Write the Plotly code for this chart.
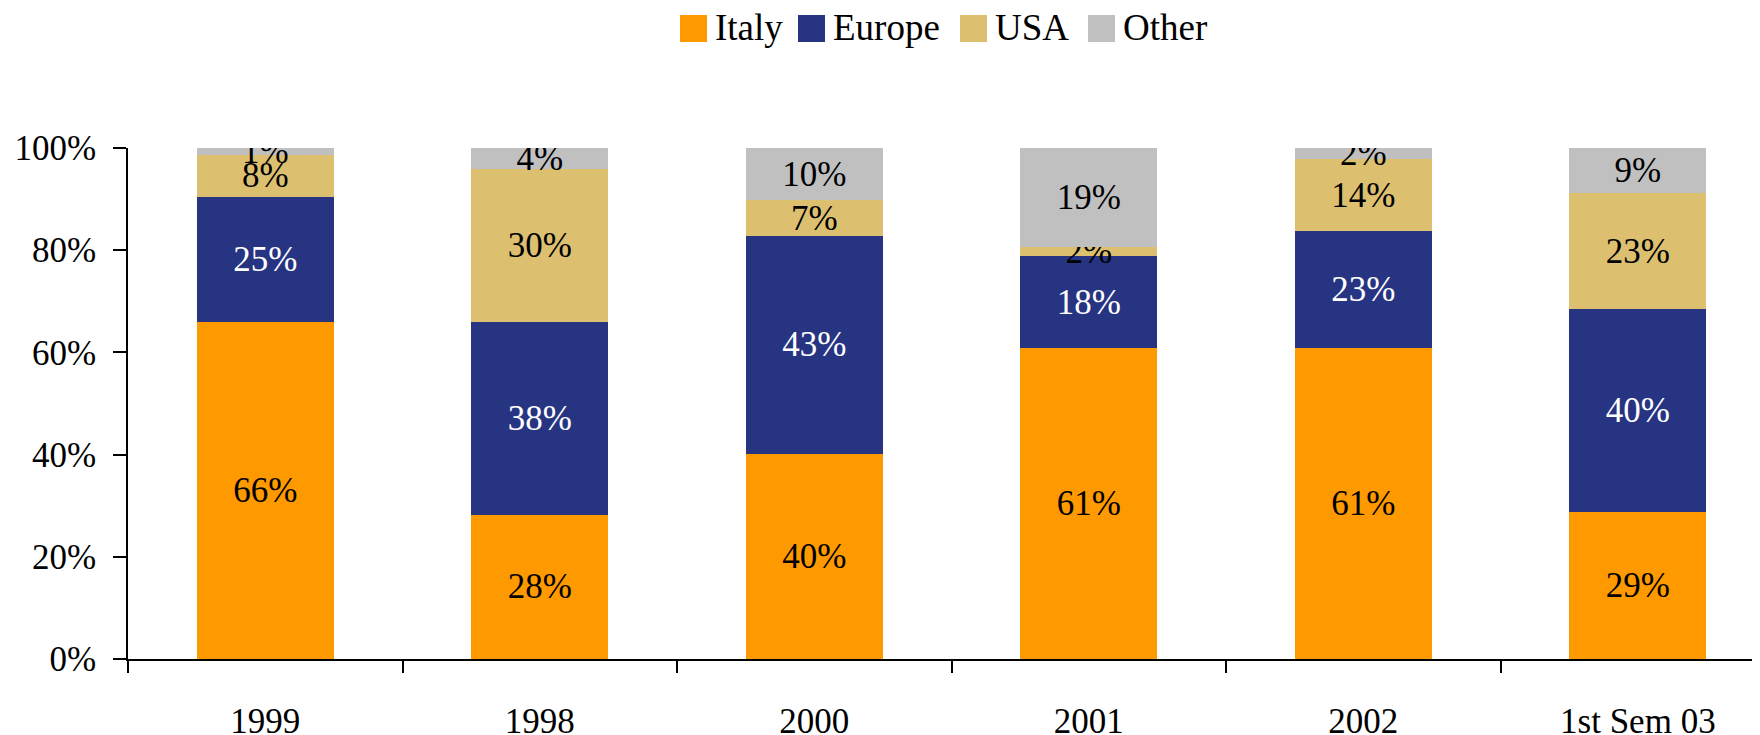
import plotly.graph_objects as go

categories = ["1999", "1998", "2000", "2001", "2002", "1st Sem 03"]
italy = [65.9, 28.2, 40.1, 60.9, 60.9, 28.7]
europe = [24.6, 37.7, 42.7, 17.9, 22.9, 39.8]
usa = [8.1, 30.0, 7.0, 1.8, 14.0, 22.6]
other = [1.4, 4.1, 10.2, 19.4, 2.2, 8.9]
y_ticks = [0, 20, 40, 60, 80, 100]
y_tick_labels = ["0%", "20%", "40%", "60%", "80%", "100%"]

series_names = ["Italy", "Europe", "USA", "Other"]
series_values = [italy, europe, usa, other]
series_colors = ["#FF9900", "#263482", "#DCC070", "#C0C0C0"]
label_colors = ["black", "white", "black", "black"]

FONT = "Liberation Serif, Times New Roman, serif"
OFF = 8  # page body margin offset
W, H = 1760 - OFF, 735 - OFF
L, R, T, B = 128 - OFF, 0, 148 - OFF, 76

fig = go.Figure()
for name, vals, col, lc in zip(series_names, series_values, series_colors, label_colors):
    fig.add_trace(go.Bar(
        x=categories, y=vals, name=name,
        marker=dict(color=col, line=dict(width=0)),
        texttemplate="%{y:.0f}%", textposition="inside",
        insidetextanchor="middle", textangle=0, constraintext="none",
        textfont=dict(family=FONT, size=35, color=lc),
        showlegend=False, hoverinfo="x+y+name",
    ))

# legend drawn as layout items (square swatch + label), positions in page pixels
pw, ph = W - L - R, H - T - B
def px(x): return (x - OFF - L) / pw
def py(y): return (H - B - (y - OFF)) / ph

legend_x = [680, 798, 960, 1088]
sq = 27
shapes, annotations = [], []
for name, col, x0 in zip(series_names, series_colors, legend_x):
    shapes.append(dict(type="rect", xref="paper", yref="paper",
                       x0=px(x0), x1=px(x0 + sq), y0=py(42), y1=py(15),
                       fillcolor=col, line=dict(width=0), layer="above"))
    annotations.append(dict(xref="paper", yref="paper", x=px(x0 + sq + 6), y=py(27),
                            text=name, showarrow=False, xanchor="left", yanchor="middle",
                            font=dict(family=FONT, size=37, color="black")))

fig.update_layout(
    barmode="stack", bargap=0.5,
    width=W, height=H,
    margin=dict(l=L, r=R, t=T, b=B, pad=0, autoexpand=False),
    paper_bgcolor="white", plot_bgcolor="white",
    font=dict(family=FONT, size=35, color="black"),
    shapes=shapes, annotations=annotations,
    xaxis=dict(type="category", range=[-0.5, 5.445], showline=True, linecolor="black",
               linewidth=1.5, ticks="outside", tickson="boundaries", ticklen=12,
               tickwidth=1.5, tickcolor="black", showgrid=False, zeroline=False,
               automargin=False,
               tickfont=dict(family=FONT, size=35, color="black"), ticklabelstandoff=30),
    yaxis=dict(range=[0, 100], tickmode="array", tickvals=y_ticks, ticktext=y_tick_labels,
               showline=True, linecolor="black", linewidth=1.5, ticks="outside", ticklen=13,
               tickwidth=1.5, tickcolor="black", showgrid=False, zeroline=False,
               automargin=False,
               tickfont=dict(family=FONT, size=35, color="black"), ticklabelstandoff=10),
)

fig.write_html("out.html")
